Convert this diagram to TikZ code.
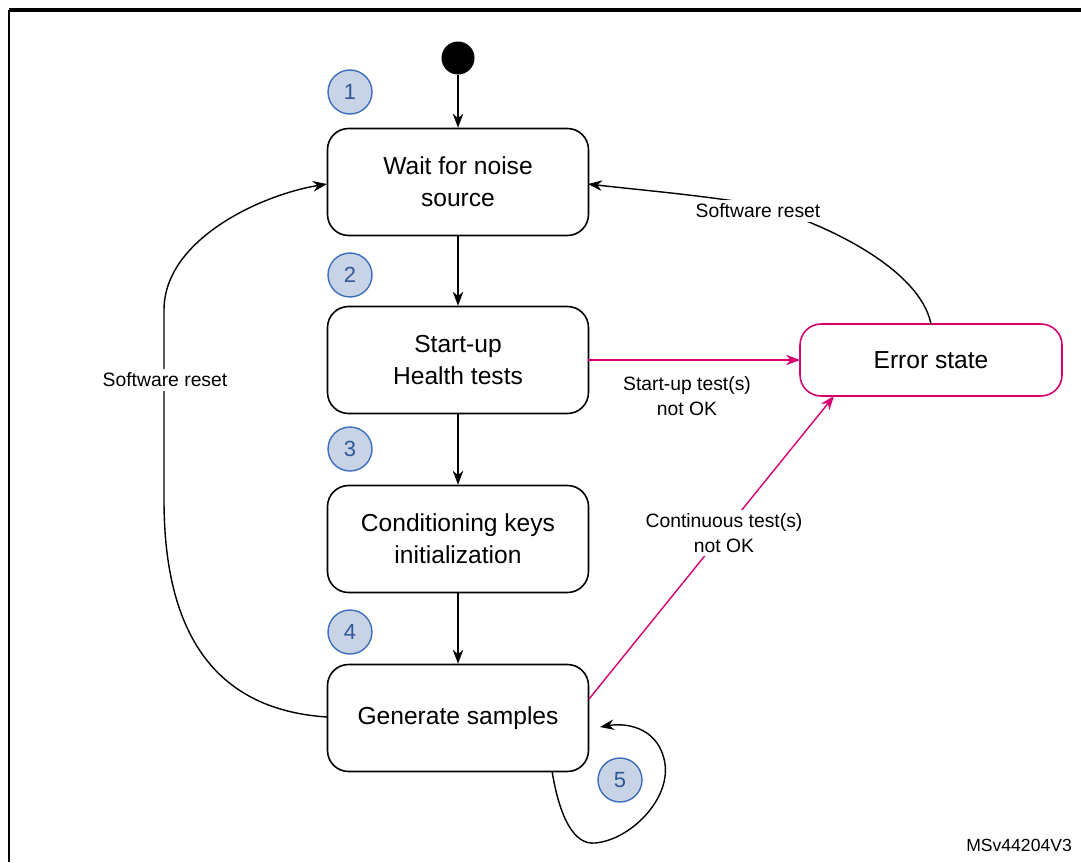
\documentclass[tikz,border=0pt]{standalone}
\usepackage{fontspec}
\setmainfont{Liberation Sans}
\usetikzlibrary{arrows.meta}
\definecolor{mag}{RGB}{214,0,112}
\definecolor{nfill}{RGB}{200,212,230}
\definecolor{nblue}{RGB}{60,110,190}
\begin{document}
\begin{tikzpicture}[x=0.02cm,y=-0.02cm,
 box/.style={draw,rounded corners=12pt,line width=0.9pt,minimum width=261*0.02cm,minimum height=107*0.02cm,align=center,font=\fontsize{14}{18}\selectfont},
 num/.style={circle,draw=nblue,fill=nfill,line width=0.8pt,minimum size=44*0.02cm,inner sep=0pt,text=nblue!80!black,font=\fontsize{12.5}{14}\selectfont},
 lbl/.style={font=\fontsize{11}{14}\selectfont,align=center,fill=white,inner sep=2pt},
 arr/.style={-{Stealth[length=8pt,width=6pt]},line width=0.8pt},
 marr/.style={arr,draw=mag}]
\useasboundingbox (0,0) rectangle (1081,862);
\draw[line width=0.9pt] (9,10) -- (9,862);
\draw[line width=2pt] (9,10) -- (1081,10);
\node[circle,fill=black,minimum size=33*0.02cm,inner sep=0pt] (start) at (458,58) {};
\node[box] (wait) at (458,182) {Wait for noise\\source};
\node[box] (su) at (458,360) {Start-up\\Health tests};
\node[box] (cond) at (458,539) {Conditioning keys\\initialization};
\node[box] (gen) at (458,718) {Generate samples};
\node[box,draw=mag,minimum width=262*0.02cm,minimum height=72*0.02cm] (err) at (931,360) {Error state};
\node[num] (n1) at (350,92) {1};
\node[num] (n2) at (350,275) {2};
\node[num] (n3) at (350,449) {3};
\node[num] (n4) at (350,632) {4};
\node[num] (n5) at (620,780) {5};
\draw[arr] (start) -- (wait);
\draw[arr] (wait) -- (su);
\draw[arr] (su) -- (cond);
\draw[arr] (cond) -- (gen);
\coordinate (gl) at (327,717);
\coordinate (wl) at (327,184);
\coordinate (lm) at (164,500);
\draw[arr] (gl) .. controls (220,710) and (164,640) .. (lm) -- (164,310) .. controls (164,240) and (260,195) .. (wl);
\node[lbl] (sr1) at (165,380) {Software reset};
\coordinate (et) at (931,324);
\coordinate (wr) at (588,184);
\draw[arr] (et) .. controls (920,270) and (830,225) .. (760,205) .. controls (700,195) and (640,190) .. (wr);
\node[lbl] (sr2) at (758,211) {Software reset};
\coordinate (sur) at (588,360);
\coordinate (erl) at (800,360);
\draw[marr] (sur) -- (erl);
\node[lbl] (l1) at (687,396) {Start-up test(s)\\not OK};
\coordinate (gr) at (589,699);
\coordinate (eb) at (834,396);
\draw[marr] (gr) -- (eb);
\node[lbl] (l2) at (724,533) {Continuous test(s)\\not OK};
\coordinate (gb) at (552,771);
\coordinate (gr2) at (600,727);
\draw[arr] (gb) .. controls (560,820) and (575,845) .. (595,843) .. controls (630,840) and (670,800) .. (665,764) .. controls (660,730) and (630,722) .. (gr2);
\node[font=\fontsize{10}{12}\selectfont,anchor=east] (id) at (1078,845) {MSv44204V3};
\end{tikzpicture}
\end{document}
